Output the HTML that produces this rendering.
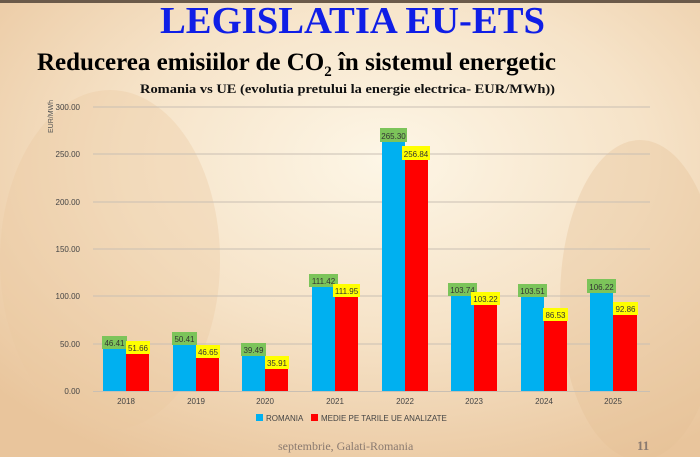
<!DOCTYPE html>
<html><head><meta charset="utf-8"><style>
html,body{margin:0;padding:0;width:700px;height:457px;overflow:hidden}
body{background:#f6e6cf}
svg{display:block}
</style></head><body>
<svg width="700" height="457" viewBox="0 0 700 457" xmlns="http://www.w3.org/2000/svg" font-family="Liberation Sans, sans-serif">
<defs>
<radialGradient id="bg" cx="0.55" cy="0.35" r="0.75">
<stop offset="0" stop-color="#fdf6e6"/>
<stop offset="0.5" stop-color="#f6e3c8"/>
<stop offset="1" stop-color="#e9c59c"/>
</radialGradient>
</defs>
<rect width="700" height="457" fill="url(#bg)"/>
<rect x="0" y="0" width="700" height="3" fill="#6b5a4a"/>
<ellipse cx="110" cy="260" rx="110" ry="170" fill="#ecc8a0" opacity="0.35"/>
<ellipse cx="640" cy="300" rx="80" ry="160" fill="#e6bf95" opacity="0.35"/>
<text x="160" y="33" font-family="Liberation Serif, serif" font-weight="bold" font-size="38" fill="#0f1ee6" textLength="385" lengthAdjust="spacingAndGlyphs">LEGISLATIA EU-ETS</text>
<text x="37" y="70" font-family="Liberation Serif, serif" font-weight="bold" font-size="25" fill="#000">Reducerea emisiilor de CO<tspan dy="6" font-size="15">2</tspan><tspan dy="-6"> în sistemul energetic</tspan></text>
<text x="140" y="93" font-family="Liberation Serif, serif" font-weight="bold" font-size="13" fill="#111" textLength="415" lengthAdjust="spacingAndGlyphs">Romania vs UE (evolutia pretului la energie electrica- EUR/MWh))</text>
<text transform="translate(53,133) rotate(-90)" font-size="7" fill="#555">EUR/MWh</text>
<g stroke="#c9bfb3" stroke-width="1">
<line x1="93" x2="650" y1="107" y2="107"/><line x1="93" x2="650" y1="154" y2="154"/>
<line x1="93" x2="650" y1="202" y2="202"/><line x1="93" x2="650" y1="249" y2="249"/>
<line x1="93" x2="650" y1="296" y2="296"/><line x1="93" x2="650" y1="344" y2="344"/>
<line x1="93" x2="650" y1="391.5" y2="391.5"/>
</g>
<g font-size="8" fill="#444" text-anchor="end">
<text x="80" y="110">300.00</text><text x="80" y="157">250.00</text><text x="80" y="205">200.00</text>
<text x="80" y="252">150.00</text><text x="80" y="299">100.00</text><text x="80" y="347">50.00</text><text x="80" y="394">0.00</text>
</g>
<g>
<rect x="103" y="349" width="23" height="42" fill="#00b0f0"/><rect x="126" y="354" width="23" height="37" fill="#ff0000"/>
<rect x="173" y="345" width="23" height="46" fill="#00b0f0"/><rect x="196" y="358" width="23" height="33" fill="#ff0000"/>
<rect x="242" y="356" width="23" height="35" fill="#00b0f0"/><rect x="265" y="369" width="23" height="22" fill="#ff0000"/>
<rect x="312" y="287" width="23" height="104" fill="#00b0f0"/><rect x="335" y="297" width="23" height="94" fill="#ff0000"/>
<rect x="382" y="142" width="23" height="249" fill="#00b0f0"/><rect x="405" y="160" width="23" height="231" fill="#ff0000"/>
<rect x="451" y="296" width="23" height="95" fill="#00b0f0"/><rect x="474" y="305" width="23" height="86" fill="#ff0000"/>
<rect x="521" y="296" width="23" height="95" fill="#00b0f0"/><rect x="544" y="321" width="23" height="70" fill="#ff0000"/>
<rect x="590" y="293" width="23" height="98" fill="#00b0f0"/><rect x="613" y="315" width="24" height="76" fill="#ff0000"/>
</g>
<g font-size="8" fill="#333" text-anchor="middle">
<rect x="102" y="336" width="25" height="13" fill="#7cc45a"/><text x="114.5" y="346">46.41</text>
<rect x="126" y="341" width="24" height="13" fill="#ffff00"/><text x="138" y="351">51.66</text>
<rect x="172" y="332" width="25" height="13" fill="#7cc45a"/><text x="184.5" y="342">50.41</text>
<rect x="196" y="345" width="24" height="13" fill="#ffff00"/><text x="208" y="355">46.65</text>
<rect x="241" y="343" width="25" height="13" fill="#7cc45a"/><text x="253.5" y="353">39.49</text>
<rect x="265" y="356" width="24" height="13" fill="#ffff00"/><text x="277" y="366">35.91</text>
<rect x="309" y="274" width="29" height="13" fill="#7cc45a"/><text x="323.5" y="284">111.42</text>
<rect x="333" y="284" width="27" height="13" fill="#ffff00"/><text x="346.5" y="294">111.95</text>
<rect x="380" y="128" width="27" height="14" fill="#7cc45a"/><text x="393.5" y="139">265.30</text>
<rect x="402" y="146" width="28" height="14" fill="#ffff00"/><text x="416" y="157">256.84</text>
<rect x="448" y="283" width="29" height="13" fill="#7cc45a"/><text x="462.5" y="293">103.74</text>
<rect x="471" y="292" width="29" height="13" fill="#ffff00"/><text x="485.5" y="302">103.22</text>
<rect x="518" y="284" width="29" height="13" fill="#7cc45a"/><text x="532.5" y="294">103.51</text>
<rect x="543" y="308" width="25" height="13" fill="#ffff00"/><text x="555.5" y="318">86.53</text>
<rect x="587" y="279" width="29" height="14" fill="#7cc45a"/><text x="601.5" y="290">106.22</text>
<rect x="613" y="302" width="25" height="13" fill="#ffff00"/><text x="625.5" y="312">92.86</text>
</g>
<g font-size="8" fill="#444" text-anchor="middle">
<text x="126" y="404">2018</text><text x="196" y="404">2019</text><text x="265" y="404">2020</text>
<text x="335" y="404">2021</text><text x="405" y="404">2022</text><text x="474" y="404">2023</text>
<text x="544" y="404">2024</text><text x="613" y="404">2025</text>
</g>
<rect x="256" y="414" width="7" height="7" fill="#00b0f0"/>
<text x="266" y="421" font-size="8" fill="#444">ROMANIA</text>
<rect x="311" y="414" width="7" height="7" fill="#ff0000"/>
<text x="321" y="421" font-size="8" fill="#444">MEDIE PE TARILE UE ANALIZATE</text>
<text x="278" y="450" font-family="Liberation Serif, serif" font-size="12" fill="#8a7a70">septembrie, Galati-Romania</text>
<text x="637" y="450" font-family="Liberation Serif, serif" font-weight="bold" font-size="13" fill="#8a7a70">11</text>
</svg>
</body></html>
